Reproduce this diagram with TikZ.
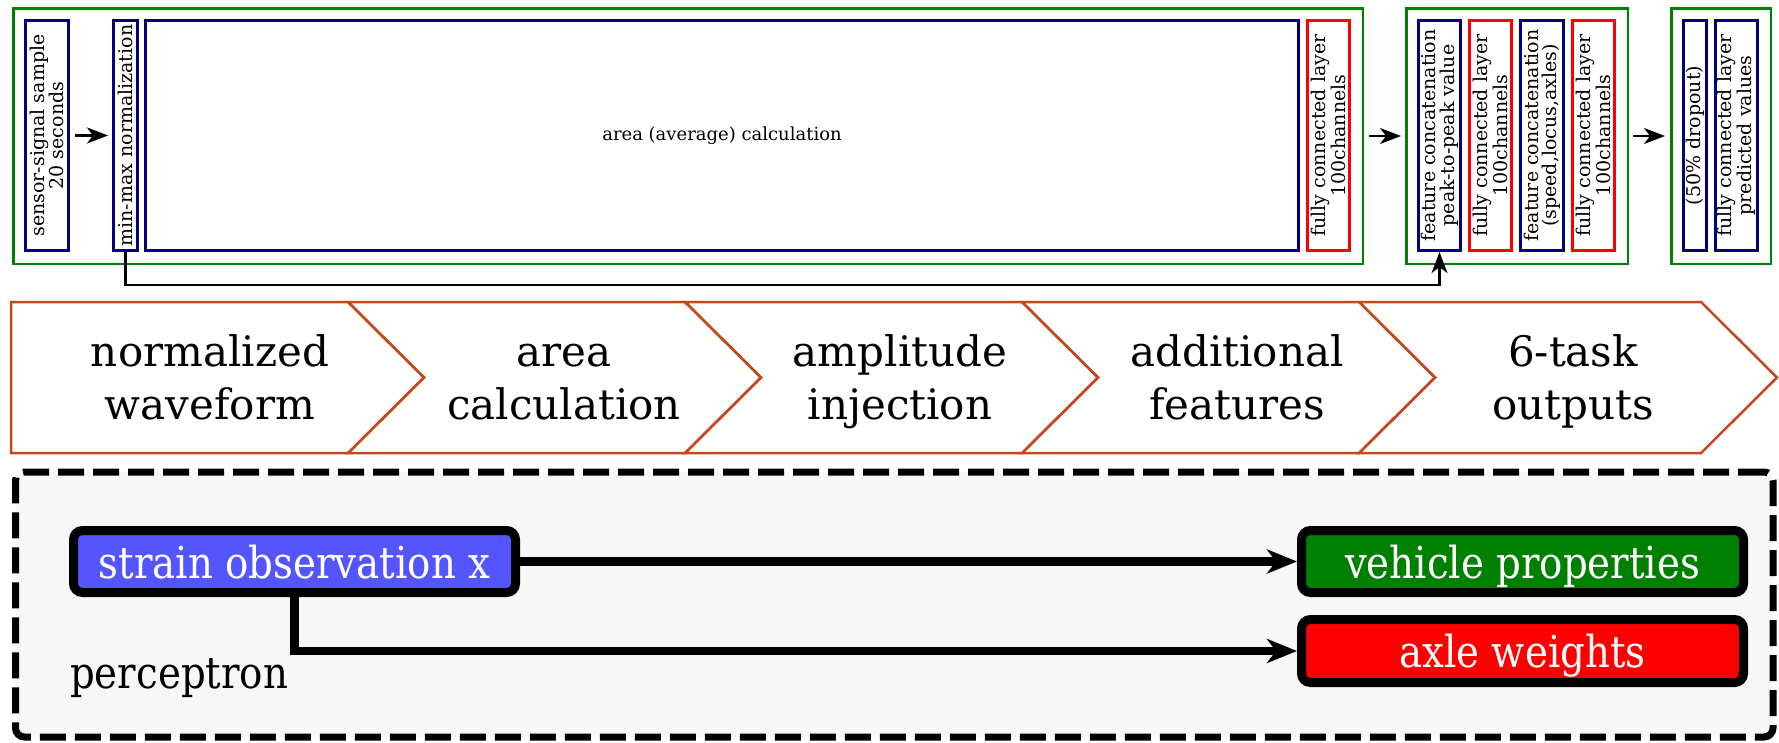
\documentclass[tikz,border=0pt]{standalone}
\usepackage{fontspec}
\setmainfont{DejaVu Serif}
\newfontfamily\narrowserif[FakeStretch=0.88]{DejaVu Serif}
\usetikzlibrary{arrows.meta}
\definecolor{layerblue}{RGB}{0,0,128}
\definecolor{layerred}{RGB}{255,0,0}
\definecolor{groupgreen}{RGB}{0,128,0}
\definecolor{stagerust}{RGB}{197,72,30}
\definecolor{panelgray}{RGB}{247,247,247}
\definecolor{inputblue}{RGB}{85,85,255}
\definecolor{outgreen}{RGB}{0,128,0}
\definecolor{outred}{RGB}{255,0,0}
\begin{document}
\begin{tikzpicture}[x=1pt,y=-1pt,
  layer/.style={draw=layerblue, line width=2.7pt, minimum height=230.5pt, inner sep=0pt},
  fclayer/.style={layer, draw=layerred},
  group/.style={draw=groupgreen, line width=2.5pt, minimum height=255.5pt, inner sep=0pt},
  vlabel/.style={rotate=90, align=center, inner sep=0pt, font=\fontsize{19}{18.5}\selectfont},
  flow/.style={-{Stealth[length=21pt,width=16pt,inset=6pt]}, line width=2.3pt},
  stage/.style={draw=stagerust, line width=2.5pt, line join=miter},
  stagetext/.style={align=center, inner sep=0pt, font=\fontsize{42}{53}\selectfont},
  panel/.style={draw=black, line width=7pt, dash pattern=on 26pt off 9pt, rounded corners=9pt, fill=panelgray, inner sep=0pt},
  outbox/.style={draw=black, line width=9pt, rounded corners=9pt, inner sep=0pt, minimum height=62pt, minimum width=442pt, text=white, font=\narrowserif\fontsize{44}{50}\selectfont, text height=33pt, text depth=0pt},
  bigflow/.style={-{Stealth[length=30pt,width=24pt,inset=9pt]}, line width=8.5pt},
]
\useasboundingbox (0,0) rectangle (1779,742);

% ---- network blocks ----
\node[group, minimum width=1349.5pt] (grpA) at (688,136) {};
\node[group, minimum width=221.5pt] (grpB) at (1517,136) {};
\node[group, minimum width=99.5pt] (grpC) at (1721,136) {};

\node[layer, minimum width=43.3pt] (sensor) at (47,135.5) {};
\node[layer, minimum width=24.3pt] (minmax) at (125.5,135.5) {};
\node[layer, minimum width=1153.3pt] (area) at (722,135.5) {};
\node[fclayer, minimum width=42.3pt] (fcA) at (1328.5,135.5) {};
\node[layer, minimum width=42.3pt] (fcatA) at (1439.5,135.5) {};
\node[fclayer, minimum width=42.3pt] (fcB) at (1490.5,135.5) {};
\node[layer, minimum width=43.3pt] (fcatB) at (1542,135.5) {};
\node[fclayer, minimum width=42.3pt] (fcC) at (1593.5,135.5) {};
\node[layer, minimum width=23.3pt] (drop) at (1695,135.5) {};
\node[layer, minimum width=42.3pt] (fcD) at (1736.5,135.5) {};

\node[vlabel] (sensorlbl) at (sensor) {sensor-signal sample\\20 seconds};
\node[vlabel] (minmaxlbl) at (minmax) {min-max normalization};
\node[inner sep=0pt, font=\fontsize{18}{18.5}\selectfont] (arealbl) at (area) {area (average) calculation};
\node[vlabel] (fcAlbl) at (fcA) {fully connected layer\\100channels};
\node[vlabel] (fcatAlbl) at (fcatA) {feature concatenation\\peak-to-peak value};
\node[vlabel] (fcBlbl) at (fcB) {fully connected layer\\100channels};
\node[vlabel] (fcatBlbl) at (fcatB) {feature concatenation\\(speed,locus,axles)};
\node[vlabel] (fcClbl) at (fcC) {fully connected layer\\100channels};
\node[vlabel] (droplbl) at (drop) {(50\% dropout)};
\node[vlabel] (fcDlbl) at (fcD) {fully connected layer\\predicted values};

\draw[flow, shorten <=5pt, shorten >=4pt] (sensor) -- (minmax);
\draw[flow, shorten <=5pt, shorten >=4pt] (grpA) -- (grpB);
\draw[flow, shorten <=4pt, shorten >=5pt] (grpB) -- (grpC);
\draw[flow] (minmax.south) -- ++(0,33) -| (fcatA.south);

% ---- stage chevrons ----
\draw[stage] (11,302) -- (348,302) -- (424,377.5) -- (348,453) -- (11,453) -- cycle;
\draw[stage] (348,302) -- (685,302) -- (761,377.5) -- (685,453) -- (348,453) -- (424,377.5) -- cycle;
\draw[stage] (685,302) -- (1022,302) -- (1098,377.5) -- (1022,453) -- (685,453) -- (761,377.5) -- cycle;
\draw[stage] (1022,302) -- (1359,302) -- (1435,377.5) -- (1359,453) -- (1022,453) -- (1098,377.5) -- cycle;
\draw[stage] (1359,302) -- (1701,302) -- (1777,377.5) -- (1701,453) -- (1359,453) -- (1435,377.5) -- cycle;

\node[stagetext] (stage1) at (210,382) {\strut normalized\\\strut waveform};
\node[stagetext] (stage2) at (564,382) {\strut area\\\strut calculation};
\node[stagetext] (stage3) at (900,382) {\strut amplitude\\\strut injection};
\node[stagetext] (stage4) at (1237,382) {\strut additional\\\strut features};
\node[stagetext] (stage5) at (1573,382) {\strut 6-task\\\strut outputs};

% ---- perceptron panel ----
\node[panel, minimum width=1757.5pt, minimum height=265pt] (panel) at (894.25,604.5) {};
\node[outbox, fill=inputblue] (strain) at (294.5,561.5) {strain observation x};
\node[outbox, fill=outgreen] (vehicle) at (1522.5,561.5) {vehicle properties};
\node[outbox, fill=outred, minimum height=63pt] (axle) at (1522.5,651) {axle weights};
\node[anchor=base west, inner sep=0pt, font=\narrowserif\fontsize{44}{50}\selectfont] (perc) at (70,688) {perceptron};

\draw[bigflow] (strain) -- (vehicle);
\draw[bigflow] (strain.south) |- (axle.west);
\end{tikzpicture}
\end{document}
